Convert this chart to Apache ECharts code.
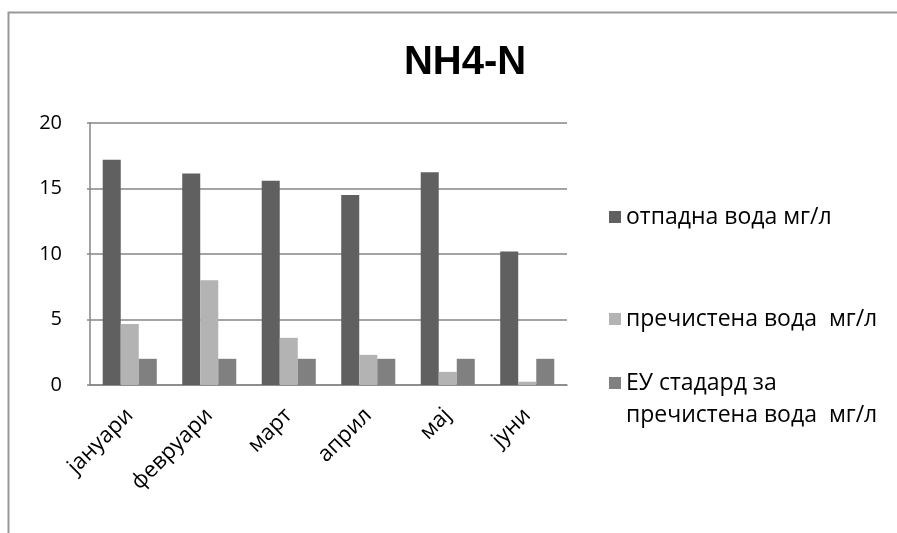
<!DOCTYPE html>
<html>
<head>
<meta charset="utf-8">
<script src="https://cdn.jsdelivr.net/npm/echarts@6/dist/echarts.min.js"></script>
<style>
html,body{margin:0;padding:0;background:#fff;}
#chart{width:897px;height:533px;}
</style>
</head>
<body>
<div id="chart"></div>
<script>
const categories = ['јануари', 'февруари', 'март', 'април', 'мај', 'јуни'];
const seriesNames = ['отпадна вода мг/л', 'пречистена вода  мг/л', 'ЕУ стадард за\nпречистена вода  мг/л'];
const wasteWater = [17.2, 16.15, 15.6, 14.5, 16.25, 10.2];
const treatedWater = [4.65, 8.0, 3.6, 2.3, 1.0, 0.25];
const euStandard = [2, 2, 2, 2, 2, 2];
const yTicks = [0, 5, 10, 15, 20];

const colors = ['#606060', '#b3b3b3', '#808080'];
const font = '"Open Sans", "Liberation Sans", sans-serif';

const chart = echarts.init(document.getElementById('chart'), null, {renderer: 'canvas'});

function legendFor(i, top, formatter) {
  const l = {
    data: [seriesNames[i]],
    left: 609,
    top: top,
    orient: 'vertical',
    icon: 'rect',
    itemWidth: 12,
    itemHeight: 12,
    itemGap: 0,
    padding: 0,
    selectedMode: false,
    textStyle: {fontFamily: font, fontSize: 23, color: '#000', lineHeight: 32}
  };
  if (formatter) l.formatter = formatter;
  return l;
}

const option = {
  animation: false,
  backgroundColor: '#fff',
  color: colors,
  title: {
    text: 'NH4-N',
    left: 460,
    top: 38,
    textAlign: 'center',
    textStyle: {fontFamily: '"Liberation Sans", Arial, sans-serif', fontWeight: 'bold', fontSize: 40, color: '#000'}
  },
  legend: [
    legendFor(0, 201),
    legendFor(1, 303),
    legendFor(2, 335, function (name) { return '\n' + name; })
  ],
  grid: {left: 90, right: 330, top: 123, bottom: 148, containLabel: false},
  xAxis: {
    type: 'category',
    data: categories,
    axisLine: {show: true, lineStyle: {color: '#868686', width: 1.5}},
    axisTick: {show: false},
    axisLabel: {rotate: 45, margin: 27, fontFamily: font, fontSize: 22, color: '#000'}
  },
  yAxis: {
    type: 'value',
    min: yTicks[0],
    max: yTicks[yTicks.length - 1],
    interval: yTicks[1] - yTicks[0],
    axisLine: {show: true, lineStyle: {color: '#868686', width: 1.5}},
    axisTick: {show: true, length: 3, lineStyle: {color: '#868686', width: 1.5}},
    splitLine: {show: true, lineStyle: {color: '#868686', width: 1.5}},
    axisLabel: {margin: 28, fontFamily: font, fontSize: 20, color: '#000'}
  },
  series: [
    {name: seriesNames[0], type: 'bar', data: wasteWater, barGap: '0%', barCategoryGap: '32%', itemStyle: {color: colors[0]}},
    {name: seriesNames[1], type: 'bar', data: treatedWater, itemStyle: {color: colors[1]}},
    {name: seriesNames[2], type: 'bar', data: euStandard, itemStyle: {color: colors[2]}}
  ],
  graphic: [{
    type: 'rect',
    silent: true,
    shape: {x: 8.5, y: 12.5, width: 1000, height: 1000},
    style: {fill: null, stroke: '#999', lineWidth: 2}
  }]
};
chart.setOption(option);
</script>
</body>
</html>
